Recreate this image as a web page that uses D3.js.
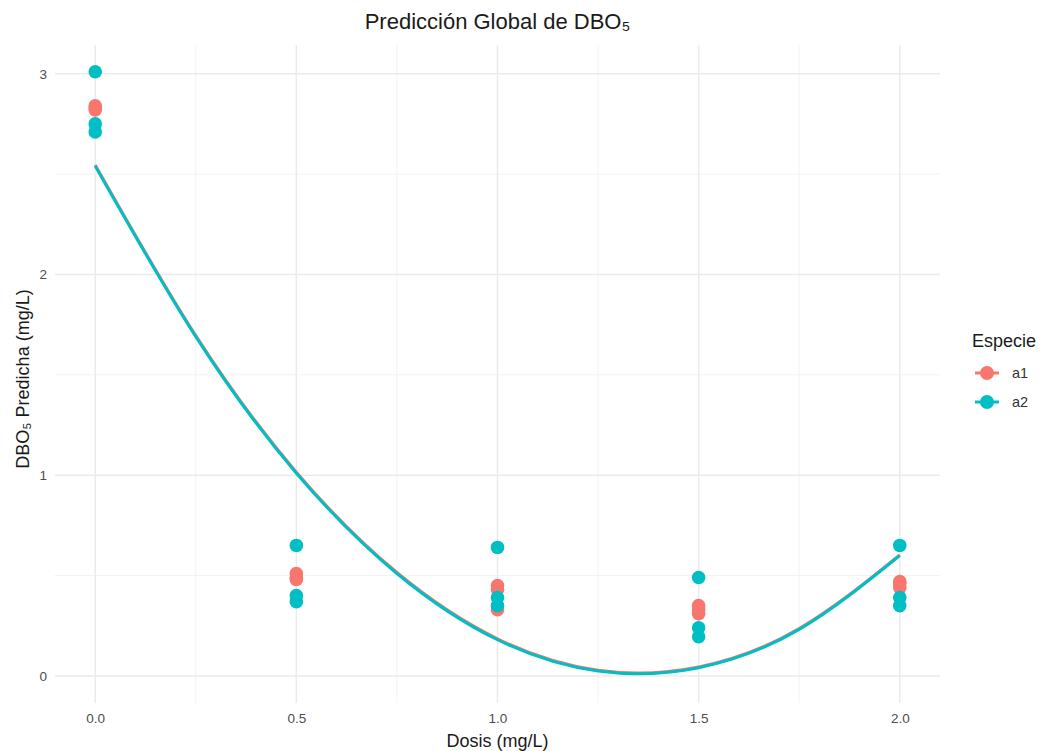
<!DOCTYPE html>
<html>
<head>
<meta charset="utf-8">
<script src="https://cdn.jsdelivr.net/npm/d3@7"></script>
<style>
  body { margin: 0; background: #fff; }
  text { font-family: "Liberation Sans", Arial, sans-serif; }
</style>
</head>
<body>
<div id="chart"></div>
<script>
// observed points, one array per species
const a1Dose = [0, 0, 0, 0.5, 0.5, 0.5, 1.0, 1.0, 1.0, 1.5, 1.5, 1.5, 2.0, 2.0, 2.0];
const a1Value = [2.84, 2.82, 2.83, 0.51, 0.48, 0.49, 0.45, 0.43, 0.33, 0.35, 0.31, 0.33, 0.47, 0.44, 0.46];
const a2Dose = [0, 0, 0, 0.5, 0.5, 0.5, 1.0, 1.0, 1.0, 1.5, 1.5, 1.5, 2.0, 2.0, 2.0];
const a2Value = [3.01, 2.75, 2.71, 0.65, 0.40, 0.37, 0.64, 0.39, 0.35, 0.49, 0.24, 0.195, 0.65, 0.39, 0.35];

// fitted curves
const curveDose = [0, 0.25, 0.5, 0.75, 1.0, 1.25, 1.5, 1.75, 2.0];
const a1Curve = [2.545, 1.695, 1.015, 0.515, 0.185, 0.028, 0.045, 0.236, 0.603];
const a2Curve = [2.54, 1.69, 1.01, 0.51, 0.18, 0.024, 0.041, 0.232, 0.60];

const xTicks = [0, 0.5, 1.0, 1.5, 2.0];
const xMinor = [0.25, 0.75, 1.25, 1.75];
const yTicks = [0, 1, 2, 3];
const yMinor = [0.5, 1.5, 2.5];

const species = ["a1", "a2"];
const colors = ["#F8766D", "#00BFC4"];

const width = 1048, height = 751;
const panel = { left: 55, right: 940, top: 45, bottom: 703 };

const svg = d3.select("#chart").append("svg")
  .attr("width", width)
  .attr("height", height);

const x = d3.scaleLinear().domain([-0.1, 2.1]).range([panel.left, panel.right]);
const y = d3.scaleLinear().domain([-0.135, 3.143]).range([panel.bottom, panel.top]);
const color = d3.scaleOrdinal().domain(species).range(colors);

// grid
svg.append("g").selectAll("line").data(xMinor).join("line")
  .attr("x1", d => x(d)).attr("x2", d => x(d))
  .attr("y1", panel.top).attr("y2", panel.bottom)
  .attr("stroke", "#f2f2f2").attr("stroke-width", 1);
svg.append("g").selectAll("line").data(yMinor).join("line")
  .attr("y1", d => y(d)).attr("y2", d => y(d))
  .attr("x1", panel.left).attr("x2", panel.right)
  .attr("stroke", "#f2f2f2").attr("stroke-width", 1);
svg.append("g").selectAll("line").data(xTicks).join("line")
  .attr("x1", d => x(d)).attr("x2", d => x(d))
  .attr("y1", panel.top).attr("y2", panel.bottom)
  .attr("stroke", "#ebebeb").attr("stroke-width", 1.5);
svg.append("g").selectAll("line").data(yTicks).join("line")
  .attr("y1", d => y(d)).attr("y2", d => y(d))
  .attr("x1", panel.left).attr("x2", panel.right)
  .attr("stroke", "#ebebeb").attr("stroke-width", 1.5);

// axes (labels only, like theme_minimal)
const xAxis = svg.append("g")
  .attr("transform", `translate(0,${panel.bottom})`)
  .call(d3.axisBottom(x).tickValues(xTicks).tickFormat(d3.format(".1f")).tickSize(0).tickPadding(10));
const yAxis = svg.append("g")
  .attr("transform", `translate(${panel.left},0)`)
  .call(d3.axisLeft(y).tickValues(yTicks).tickFormat(d3.format("d")).tickSize(0).tickPadding(8));
[xAxis, yAxis].forEach(a => {
  a.select(".domain").remove();
  a.selectAll("text")
    .style("font-family", "Liberation Sans, Arial, sans-serif")
    .style("font-size", "13.5px")
    .attr("fill", "#4d4d4d");
});

// fitted lines
const line = d3.line().x(d => x(d[0])).y(d => y(d[1])).curve(d3.curveNatural);
[a1Curve, a2Curve].forEach((vals, i) => {
  svg.append("path")
    .datum(curveDose.map((d, j) => [d, vals[j]]))
    .attr("d", line)
    .attr("fill", "none")
    .attr("stroke", colors[i])
    .attr("stroke-width", 3);
});

// points
const pts = [a1Dose.map((d, i) => ({ dose: d, v: a1Value[i], s: "a1" })),
             a2Dose.map((d, i) => ({ dose: d, v: a2Value[i], s: "a2" }))].flat();
svg.append("g").selectAll("circle").data(pts).join("circle")
  .attr("cx", d => x(d.dose))
  .attr("cy", d => y(d.v))
  .attr("r", 6.8)
  .attr("fill", d => color(d.s));

// title
svg.append("text")
  .attr("x", (panel.left + panel.right) / 2)
  .attr("y", 29)
  .attr("text-anchor", "middle")
  .style("font-size", "22px")
  .attr("fill", "#1a1a1a")
  .text("Predicción Global de DBO₅");

// axis titles
svg.append("text")
  .attr("x", (panel.left + panel.right) / 2)
  .attr("y", 747)
  .attr("text-anchor", "middle")
  .style("font-size", "18px")
  .attr("fill", "#1a1a1a")
  .text("Dosis (mg/L)");
svg.append("text")
  .attr("transform", `translate(29,${(panel.top + panel.bottom) / 2 + 5}) rotate(-90)`)
  .attr("text-anchor", "middle")
  .style("font-size", "18px")
  .attr("fill", "#1a1a1a")
  .text("DBO₅ Predicha (mg/L)");

// legend
const legend = svg.append("g").attr("transform", "translate(972,0)");
legend.append("text")
  .attr("x", 0).attr("y", 347)
  .style("font-size", "18px")
  .attr("fill", "#1a1a1a")
  .text("Especie");
species.forEach((s, i) => {
  const ly = 373 + i * 29;
  legend.append("line")
    .attr("x1", 3).attr("x2", 27).attr("y1", ly).attr("y2", ly)
    .attr("stroke", color(s)).attr("stroke-width", 3);
  legend.append("circle")
    .attr("cx", 15).attr("cy", ly).attr("r", 7)
    .attr("fill", color(s));
  legend.append("text")
    .attr("x", 40).attr("y", ly + 5)
    .style("font-size", "14.5px")
    .attr("fill", "#333")
    .text(s);
});
</script>
</body>
</html>
